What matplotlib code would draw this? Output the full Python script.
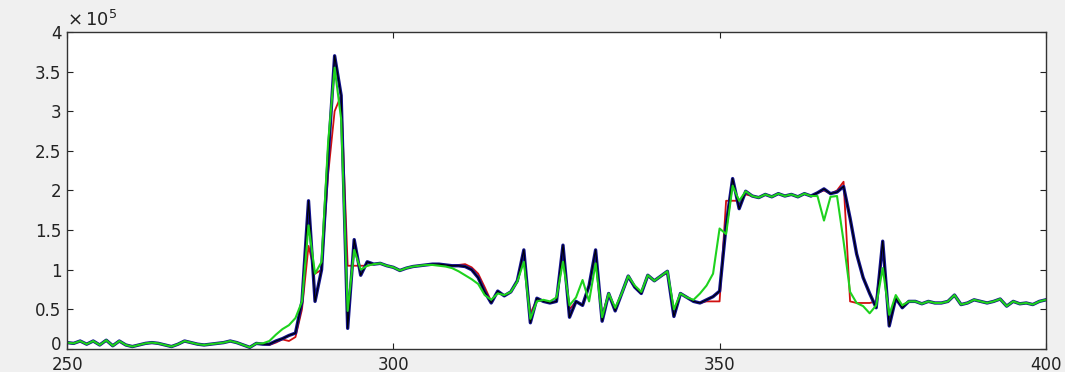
import numpy as np
import matplotlib
matplotlib.use('Agg')
from matplotlib import pyplot as plt
from matplotlib.ticker import FuncFormatter
import matplotlib.transforms as mtransforms

# sample index 250..400, values in units of 1e5
x = np.arange(250, 401)

blue = [0.08,0.07,0.10,0.06,0.10,0.05,0.11,0.04,0.10,0.05,
        0.03,0.05,0.07,0.08,0.07,0.05,0.03,0.06,0.10,0.08,
        0.06,0.05,0.06,0.07,0.08,0.10,0.08,0.05,0.02,0.07,
        0.06,0.06,0.10,0.13,0.17,0.20,0.60,1.87,0.60,1.00,
        2.40,3.70,3.20,0.26,1.38,0.93,1.10,1.07,1.08,1.05,
        1.03,0.99,1.02,1.04,1.05,1.06,1.07,1.07,1.06,1.05,
        1.05,1.04,1.00,0.90,0.72,0.58,0.73,0.67,0.72,0.86,
        1.25,0.33,0.64,0.60,0.58,0.60,1.31,0.40,0.60,0.55,
        0.80,1.25,0.35,0.70,0.48,0.70,0.92,0.78,0.70,0.93,
        0.86,0.92,0.98,0.41,0.70,0.65,0.60,0.58,0.62,0.66,
        0.73,1.56,2.15,1.77,1.99,1.93,1.91,1.95,1.92,1.96,
        1.93,1.95,1.92,1.96,1.93,1.97,2.02,1.96,1.98,2.05,
        1.65,1.20,0.90,0.70,0.52,1.36,0.29,0.64,0.52,0.60,
        0.60,0.57,0.60,0.58,0.58,0.60,0.68,0.56,0.58,0.62,
        0.60,0.58,0.60,0.63,0.54,0.60,0.57,0.58,0.56,0.60,
        0.62]

red = [0.08,0.07,0.10,0.06,0.10,0.05,0.11,0.04,0.10,0.05,
       0.03,0.05,0.07,0.08,0.07,0.05,0.03,0.06,0.10,0.08,
       0.06,0.05,0.06,0.07,0.08,0.10,0.08,0.05,0.02,0.07,
       0.06,0.05,0.08,0.12,0.10,0.15,0.50,1.30,0.95,1.00,
       2.20,3.00,3.20,1.05,1.05,1.05,1.05,1.07,1.08,1.05,
       1.03,0.99,1.02,1.04,1.05,1.06,1.07,1.07,1.06,1.05,
       1.06,1.07,1.03,0.95,0.78,0.60,0.72,0.67,0.72,0.85,
       1.15,0.45,0.62,0.60,0.58,0.60,1.20,0.50,0.60,0.56,
       0.80,1.15,0.42,0.70,0.50,0.70,0.90,0.78,0.70,0.92,
       0.86,0.92,0.96,0.48,0.70,0.65,0.60,0.58,0.60,0.60,
       0.60,1.87,1.87,1.87,1.95,1.93,1.91,1.95,1.92,1.96,
       1.93,1.95,1.92,1.96,1.93,1.97,2.00,1.96,2.00,2.11,
       0.60,0.58,0.58,0.58,0.60,1.30,0.35,0.64,0.55,0.60,
       0.60,0.57,0.60,0.58,0.58,0.60,0.68,0.56,0.58,0.62,
       0.60,0.58,0.60,0.63,0.54,0.60,0.57,0.58,0.56,0.60,
       0.62]

green = [0.08,0.07,0.10,0.06,0.10,0.05,0.11,0.04,0.10,0.05,
         0.03,0.05,0.07,0.08,0.07,0.05,0.03,0.06,0.10,0.08,
         0.06,0.05,0.06,0.07,0.08,0.10,0.08,0.05,0.02,0.07,
         0.07,0.10,0.18,0.25,0.30,0.39,0.60,1.56,0.95,1.10,
         2.60,3.55,2.90,0.48,1.25,1.00,1.05,1.07,1.08,1.05,
         1.03,0.99,1.02,1.04,1.05,1.06,1.06,1.05,1.04,1.02,
         0.98,0.93,0.88,0.82,0.68,0.62,0.70,0.68,0.72,0.85,
         1.10,0.38,0.60,0.62,0.60,0.65,1.10,0.55,0.65,0.87,
         0.60,1.08,0.40,0.70,0.52,0.70,0.92,0.80,0.72,0.93,
         0.86,0.92,0.98,0.50,0.70,0.65,0.62,0.70,0.80,0.95,
         1.52,1.45,2.06,1.87,1.99,1.93,1.91,1.95,1.92,1.96,
         1.93,1.95,1.92,1.96,1.93,1.93,1.62,1.92,1.93,1.36,
         0.72,0.58,0.54,0.45,0.55,1.02,0.43,0.68,0.55,0.60,
         0.60,0.57,0.60,0.58,0.58,0.60,0.68,0.56,0.58,0.62,
         0.60,0.58,0.60,0.63,0.54,0.60,0.57,0.58,0.56,0.60,
         0.62]

yticks = [0, 0.5, 1, 1.5, 2, 2.5, 3, 3.5, 4]
xticks = [250, 300, 350, 400]

fig = plt.figure(figsize=(10.65, 3.72), dpi=100, facecolor='#f0f0f0')
ax = fig.add_axes([0.063, 0.062, 0.919, 0.852])
ax.set_facecolor('white')

ax.plot(x, np.array(red) * 1e5, color='#d01010', lw=1.3)
ax.plot(x, np.array(blue) * 1e5, color='#10108a', lw=2.4)
ax.plot(x, np.array(blue) * 1e5, color='black', lw=0.8)
ax.plot(x, np.array(green) * 1e5, color='#1ed21e', lw=1.5)

ax.set_xlim(250, 400)
ax.set_ylim(0, 4e5)
ax.set_xticks(xticks)
ax.set_yticks([v * 1e5 for v in yticks])
ax.yaxis.set_major_formatter(FuncFormatter(lambda v, p: '%g' % (v / 1e5)))
ax.tick_params(direction='in', top=True, right=True, length=4, labelsize=12,
               colors='#222222', pad=4)
ax.tick_params(axis='x', labelsize=12, pad=5)
for s in ax.spines.values():
    s.set_color('#333333')
    s.set_linewidth(1.0)

# nudge the "0" label up a little so it does not touch "250"
fig.canvas.draw()
zero = ax.get_yticklabels()[0]
zero.set_transform(zero.get_transform() +
                   mtransforms.ScaledTranslation(0, 4 / 72, fig.dpi_scale_trans))

ax.text(0.0, 1.005, r'$\times\,10^5$', transform=ax.transAxes, fontsize=13,
        color='#222222', ha='left', va='bottom')

fig.savefig('out.png', dpi=100, facecolor=fig.get_facecolor())
